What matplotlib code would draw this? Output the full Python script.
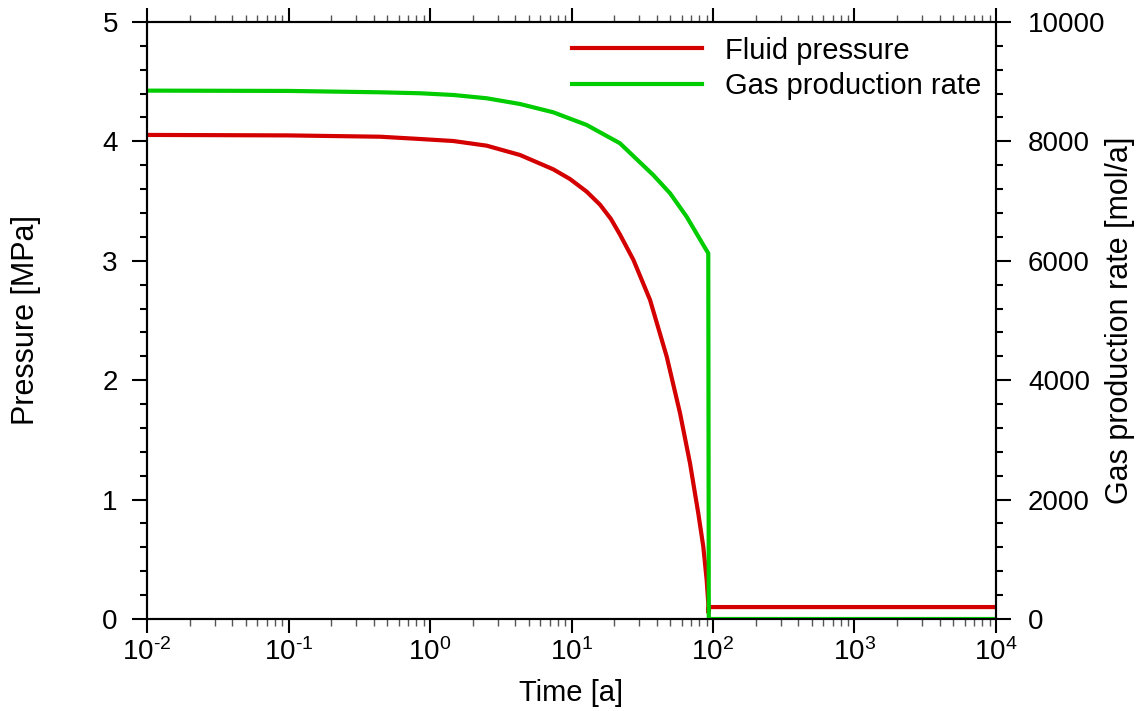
import numpy as np
import matplotlib
matplotlib.use("Agg")
import matplotlib.pyplot as plt
from matplotlib.ticker import LogLocator, MultipleLocator, NullFormatter, FuncFormatter

plt.rcParams["font.family"] = ["Liberation Sans", "DejaVu Sans"]
plt.rcParams["mathtext.fontset"] = "custom"
plt.rcParams["mathtext.rm"] = "Liberation Sans"
plt.rcParams["mathtext.it"] = "Liberation Sans:italic"
plt.rcParams["mathtext.bf"] = "Liberation Sans:bold"

# Fluid pressure [MPa] vs time [a]
t_pressure = [0.01, 0.1, 0.444, 0.849, 1.461, 2.516, 4.325, 7.43, 9.75, 12.8, 15.9, 19.0,
              22.0, 27.4, 35.9, 47.1, 58.5, 68.8, 78.7, 85.4, 90.2, 92.6, 93.1, 93.4, 10000]
pressure = [4.054, 4.05, 4.039, 4.020, 4.003, 3.964, 3.886, 3.766, 3.685, 3.579, 3.47, 3.35,
            3.22, 3.007, 2.672, 2.197, 1.723, 1.304, 0.885, 0.606, 0.327, 0.131, 0.05,
            0.1, 0.1]

# Gas production rate [mol/a] vs time [a]
t_gas = [0.01, 0.1, 0.444, 0.849, 1.461, 2.516, 4.325, 7.43, 12.8, 22.0, 37.8,
         49.7, 65.1, 85.4, 92.6, 93.4, 10000]
gas_rate = [8850, 8845, 8822, 8806, 8777, 8722, 8626, 8487, 8275, 7968, 7437,
            7131, 6739, 6265, 6126, 0, 0]

fig = plt.figure(figsize=(11.38, 7.11), dpi=100)
ax = fig.add_axes([0.1292, 0.1294, 0.746, 0.8397])
ax2 = ax.twinx()

l1, = ax.plot(t_pressure, pressure, color="#d40000", lw=3, label="Fluid pressure")
l2, = ax2.plot(t_gas, gas_rate, color="#00cc00", lw=3, label="Gas production rate")

ax.set_xscale("log")
ax.set_xlim(1e-2, 1e4)
ax.set_ylim(0, 5)
ax2.set_ylim(0, 10000)

def pow10(v, pos):
    e = int(round(np.log10(v)))
    return r"$10^{\text{%d}}$" % e

ax.xaxis.set_major_locator(LogLocator(base=10, numticks=20))
ax.xaxis.set_major_formatter(FuncFormatter(pow10))
ax.xaxis.set_minor_locator(LogLocator(base=10, subs=np.arange(2, 10), numticks=20))
ax.xaxis.set_minor_formatter(NullFormatter())
ax.yaxis.set_major_locator(MultipleLocator(1))
ax.yaxis.set_minor_locator(MultipleLocator(0.2))
ax2.yaxis.set_major_locator(MultipleLocator(2000))
ax2.yaxis.set_minor_locator(MultipleLocator(400))

ax.tick_params(axis="x", which="both", direction="out", top=True, labelsize=20, pad=4)
ax.tick_params(axis="x", which="major", length=10, width=1.5)
ax.tick_params(axis="x", which="minor", length=5, width=1.0, color="#555555")
ax.tick_params(axis="y", which="major", direction="out", length=11, width=1.5,
               labelsize=20, pad=10)
ax.tick_params(axis="y", which="minor", direction="out", length=5, width=1.5)
ax2.tick_params(axis="y", which="major", direction="out", length=11, width=1.5,
                labelsize=20, pad=12)
ax2.tick_params(axis="y", which="minor", direction="out", length=5, width=1.5)

for a in (ax, ax2):
    for s in a.spines.values():
        s.set_linewidth(1.5)

ax.set_xlabel("Time [a]", fontsize=21)
ax.set_ylabel("Pressure [MPa]", fontsize=22)
ax2.set_ylabel("Gas production rate [mol/a]", fontsize=22)
ax.xaxis.set_label_coords(0.5, -0.100)
ax.yaxis.set_label_coords(-0.125, 0.5)
ax2.yaxis.set_label_coords(1.128, 0.5)

ax2.legend([l1, l2], ["Fluid pressure", "Gas production rate"], loc="upper right",
           fontsize=21, frameon=False, handlelength=4.45, handletextpad=0.8,
           labelspacing=0.25, borderaxespad=0.1)

fig.savefig("out.png", dpi=100)
